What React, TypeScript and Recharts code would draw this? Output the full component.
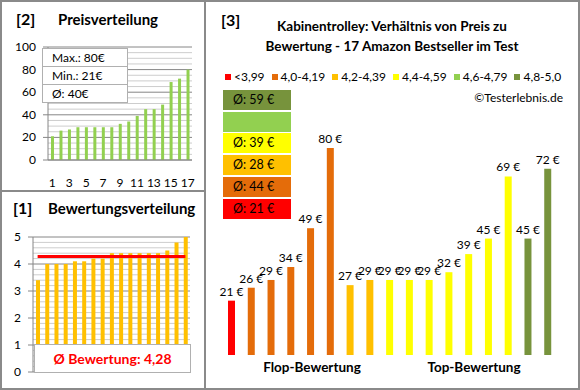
import React from 'react';
import { BarChart, Bar, XAxis, YAxis, CartesianGrid, ComposedChart, Line, LabelList, Cell } from 'recharts';

const FONT = 'Lato, "Open Sans", sans-serif';

// [2] Preisverteilung (sorted prices)
const productNo = ['1', '2', '3', '4', '5', '6', '7', '8', '9', '10', '11', '12', '13', '14', '15', '16', '17'];
const pricesSorted = [21, 26, 27, 29, 29, 29, 29, 29, 32, 34, 39, 45, 45, 49, 69, 72, 80];
const priceTicks = [0, 5, 10, 15, 20, 25, 30, 35, 40, 45, 50, 55, 60, 65, 70, 75, 80, 85, 90, 95, 100];
const priceStats = ['Max.: 80€', 'Min.: 21€', 'Ø: 40€'];

// [1] Bewertungsverteilung (sorted ratings)
const ratingsSorted = [3.4, 4.0, 4.0, 4.0, 4.1, 4.1, 4.2, 4.2, 4.4, 4.4, 4.4, 4.4, 4.4, 4.4, 4.5, 4.8, 5.0];
const ratingAvg = 4.28;
const ratingTicks = [0, 0.2, 0.4, 0.6, 0.8, 1, 1.2, 1.4, 1.6, 1.8, 2, 2.2, 2.4, 2.6, 2.8, 3, 3.2, 3.4, 3.6, 3.8, 4, 4.2, 4.4, 4.6, 4.8, 5];

// [3] Preis zu Bewertung
const classLabels = ['<3,99', '4,0-4,19', '4,2-4,39', '4,4-4,59', '4,6-4,79', '4,8-5,0'];
const classColors = ['#FF0000', '#E46C0A', '#FFC000', '#FFFF00', '#92D050', '#77933C'];
const classAvgLabels = ['Ø: 21 €', 'Ø: 44 €', 'Ø: 28 €', 'Ø: 39 €', '', 'Ø: 59 €'];
const prices = [21, 26, 29, 34, 49, 80, 27, 29, 29, 29, 29, 32, 39, 45, 69, 45, 72];
const priceClass = [0, 1, 1, 1, 1, 1, 2, 2, 3, 3, 3, 3, 3, 3, 3, 5, 5];

const priceData = productNo.map((n, i) => ({ n, price: pricesSorted[i] }));
const ratingData = productNo.map((n, i) => ({ n, rating: ratingsSorted[i], avg: ratingAvg }));
const mainData = productNo.map((n, i) => ({ n, price: prices[i], cls: priceClass[i] }));

const tickStyle = { fontSize: 12, fill: '#000', fontFamily: FONT };

const isMajor = (v: number, step: number) => Math.abs(v / step - Math.round(v / step)) < 1e-6;

// y tick: label + short tick mark only on major values
const makeYTick = (step: number) => (props: any) => {
  const { x, y, payload } = props;
  if (!isMajor(payload.value, step)) return <g />;
  return (
    <g>
      <line x1={x + 3} x2={x + 8} y1={y} y2={y} stroke="#868686" />
      <text x={x - 4} y={y} dy={4} textAnchor="end" {...tickStyle}>{payload.value}</text>
    </g>
  );
};

// grid line: darker on major values
const makeGridLine = (ticks: number[], step: number) => (props: any) => {
  const { x1, x2, y1, y2, index } = props;
  const v = ticks[ticks.length - 1 - index];
  const major = v !== undefined && isMajor(v, step);
  return <line key={`g${index}`} x1={x1} x2={x2} y1={y1} y2={y2} stroke={major ? '#868686' : '#cdcdcd'} />;
};

const priceLabel = (props: any) => {
  const { x, y, width, value } = props;
  return (
    <text x={x + width / 2} y={y - 5} textAnchor="middle" {...tickStyle}>{`${value} €`}</text>
  );
};

const titleStyle = { position: 'absolute' as const, fontSize: 15, fontWeight: 700 };

export default function App() {
  return (
    <div style={{ position: 'absolute', left: 0, top: 0, width: 580, height: 390, background: '#fff', fontFamily: FONT }}>
      {/* [2] Preisverteilung */}
      <div style={{ position: 'absolute', left: 0, top: 0, width: 200, height: 190 }}>
        <BarChart width={200} height={190} data={priceData} margin={{ top: 47, right: 8, bottom: 0, left: 0 }}>
          <CartesianGrid vertical={false} horizontal={makeGridLine(priceTicks, 20)} />
          <XAxis dataKey="n" interval={1} axisLine={{ stroke: '#868686' }} tickLine={false} tick={tickStyle} tickMargin={12} height={30} />
          <YAxis domain={[0, 100]} ticks={priceTicks} interval={0} width={48} axisLine={{ stroke: '#868686' }} tickLine={false} tick={makeYTick(20)} />
          <Bar dataKey="price" fill="#92D050" barSize={3} isAnimationActive={false} />
        </BarChart>
      </div>
      <div style={{ position: 'absolute', left: 16, top: 9, fontSize: 16, fontWeight: 700 }}>[2]</div>
      <div style={{ ...titleStyle, left: 58, top: 10 }}>Preisverteilung</div>
      <div style={{ position: 'absolute', left: 42, top: 48, width: 84, background: '#fff', border: '1px solid #b0b0b0', fontSize: 12 }}>
        {priceStats.map((s, i) => (
          <div key={s} style={{ height: 17, lineHeight: '17px', paddingLeft: 9, borderTop: i ? '1px solid #b0b0b0' : 'none' }}>{s}</div>
        ))}
      </div>

      {/* [1] Bewertungsverteilung */}
      <div style={{ position: 'absolute', left: 0, top: 192, width: 200, height: 198 }}>
        <ComposedChart width={200} height={198} data={ratingData} margin={{ top: 45, right: 10, bottom: 18, left: 0 }}>
          <CartesianGrid vertical={false} horizontal={makeGridLine(ratingTicks, 1)} />
          <XAxis dataKey="n" hide />
          <YAxis domain={[0, 5]} ticks={ratingTicks} interval={0} width={33} axisLine={{ stroke: '#868686' }} tickLine={false} tick={makeYTick(1)} />
          <Bar dataKey="rating" fill="#FFC000" barSize={4} isAnimationActive={false} />
          <Line dataKey="avg" stroke="#FF0000" strokeWidth={3} dot={false} isAnimationActive={false} />
        </ComposedChart>
      </div>
      <div style={{ position: 'absolute', left: 13, top: 198, fontSize: 16, fontWeight: 700 }}>[1]</div>
      <div style={{ ...titleStyle, left: 48, top: 199 }}>Bewertungsverteilung</div>
      <div style={{ position: 'absolute', left: 34, top: 344, width: 155, height: 27, background: '#fff', border: '1px solid #b0b0b0', color: '#FF0000', fontWeight: 700, fontSize: 14, textAlign: 'center', lineHeight: '27px' }}>
        Ø Bewertung: 4,28
      </div>

      {/* [3] Preis zu Bewertung */}
      <div style={{ position: 'absolute', left: 200, top: 0, width: 380, height: 390 }}>
        <BarChart width={380} height={390} data={mainData} margin={{ top: 148, right: 22, bottom: 35, left: 22 }}>
          <XAxis dataKey="n" hide />
          <YAxis domain={[0, 80]} hide />
          <Bar dataKey="price" barSize={7} isAnimationActive={false}>
            {mainData.map((d) => (
              <Cell key={d.n} fill={classColors[d.cls]} />
            ))}
            <LabelList dataKey="price" content={priceLabel} />
          </Bar>
        </BarChart>
      </div>
      <div style={{ position: 'absolute', left: 221, top: 10, fontSize: 16, fontWeight: 700 }}>[3]</div>
      <div style={{ position: 'absolute', left: 206, top: 16, width: 372, textAlign: 'center', fontSize: 13.5, fontWeight: 700, lineHeight: '20px' }}>
        Kabinentrolley: Verhältnis von Preis zu<br />Bewertung - 17 Amazon Bestseller im Test
      </div>
      <div style={{ position: 'absolute', left: 225, top: 69, display: 'flex', alignItems: 'center', fontSize: 12 }}>
        {classLabels.map((l, i) => (
          <div key={l} style={{ display: 'flex', alignItems: 'center', marginRight: 7 }}>
            <span style={{ display: 'inline-block', width: 6, height: 6, background: classColors[i], marginRight: 3 }} />
            <span>{l}</span>
          </div>
        ))}
      </div>
      <div style={{ position: 'absolute', right: 17, top: 90, fontSize: 12 }}>©Testerlebnis.de</div>
      {classAvgLabels.map((t, i) => {
        const k = classAvgLabels.length - 1 - i;
        return (
          <div key={i} style={{ position: 'absolute', left: 223, top: 90 + i * 21.7, width: 68, height: 20, background: classColors[k], fontSize: 12.5, lineHeight: '20px', paddingLeft: 10, boxSizing: 'border-box' }}>
            {classAvgLabels[k]}
          </div>
        );
      })}
      <div style={{ position: 'absolute', left: 262, top: 359, width: 100, textAlign: 'center', fontSize: 13.5, fontWeight: 700 }}>Flop-Bewertung</div>
      <div style={{ position: 'absolute', left: 424, top: 359, width: 100, textAlign: 'center', fontSize: 13.5, fontWeight: 700 }}>Top-Bewertung</div>

      {/* frames */}
      <div style={{ position: 'absolute', left: 0, top: 0, width: 576, height: 386, border: '2px solid #8a8a8a', pointerEvents: 'none' }} />
      <div style={{ position: 'absolute', left: 204, top: 0, width: 2, height: 390, background: '#8a8a8a' }} />
      <div style={{ position: 'absolute', left: 0, top: 190, width: 205, height: 2, background: '#8a8a8a' }} />
    </div>
  );
}
